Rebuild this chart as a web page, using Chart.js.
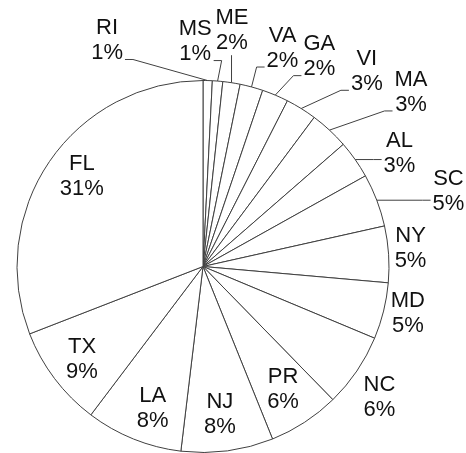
<!DOCTYPE html>
<html>
<head>
<meta charset="utf-8">
<script src="https://cdn.jsdelivr.net/npm/chart.js@4.4.0/dist/chart.umd.min.js"></script>
<style>
  html, body { margin: 0; padding: 0; background: #fff; }
</style>
</head>
<body>
<canvas id="pie" width="466" height="453"></canvas>
<script>
const states = ['RI', 'MS', 'ME', 'VA', 'GA', 'VI', 'MA', 'AL', 'SC', 'NY', 'MD', 'NC', 'PR', 'NJ', 'LA', 'TX', 'FL'];
// shares in tenths of a percent
const shares = [8, 9, 15, 20, 23, 27, 34, 33, 46, 49, 49, 64, 62, 80, 84, 88, 309];

// where each label sits: angle (deg, clockwise from 12 o'clock) and distance as a fraction of the radius
const labelAngles = [337, 358, 7, 20, 29, 40, 50, 60, 73, 85, 103, 126.5, 147, 173.5, 199.5, 232.5, 306.5];
const labelRadii = [1.32, 1.21, 1.28, 1.25, 1.29, 1.37, 1.46, 1.22, 1.38, 1.12, 1.13, 1.18, 0.79, 0.80, 0.81, 0.82, 0.81];

const FONT = '22px "Liberation Sans", Arial, sans-serif';
const LINE_H = 25;
const total = shares.reduce((a, b) => a + b, 0);

const pieLabels = {
    id: 'pieLabels',
    afterDatasetsDraw(chart) {
        const ctx = chart.ctx;
        const arcs = chart.getDatasetMeta(0).data;
        ctx.save();
        ctx.font = FONT;
        ctx.textAlign = 'center';
        ctx.textBaseline = 'middle';
        arcs.forEach((arc, i) => {
            const R = arc.outerRadius;
            const mid = (arc.startAngle + arc.endAngle) / 2;
            const ax = arc.x + R * Math.cos(mid);
            const ay = arc.y + R * Math.sin(mid);

            const a = labelAngles[i] * Math.PI / 180 - Math.PI / 2;
            const cx = arc.x + labelRadii[i] * R * Math.cos(a);
            const cy = arc.y + labelRadii[i] * R * Math.sin(a);

            const pct = Math.round(shares[i] * 100 / total) + '%';
            const w = Math.max(ctx.measureText(states[i]).width, ctx.measureText(pct).width);
            const left = cx - w / 2, right = cx + w / 2;
            const top = cy - LINE_H, bottom = cy + LINE_H;

            // leader line only when the label box is pulled clear of its slice
            const nx = Math.min(Math.max(ax, left), right);
            const ny = Math.min(Math.max(ay, top), bottom);
            const gap = Math.hypot(ax - nx, ay - ny);
            if (labelRadii[i] > 1 && gap > 12) {
                ctx.strokeStyle = '#404040';
                ctx.lineWidth = 1;
                ctx.beginPath();
                ctx.moveTo(ax, ay);
                if (ax >= left && ax <= right) {
                    ctx.lineTo(ax, ay > cy ? bottom : top);
                } else {
                    const dir = ax < left ? -1 : 1;
                    const ex = ax < left ? left - 2 : right + 2;
                    const ey = Math.min(Math.max(ay, top + 10), bottom - 6);
                    ctx.lineTo(ex + dir * 8, ey);
                    ctx.lineTo(ex, ey);
                }
                ctx.stroke();
            }

            ctx.fillStyle = '#111';
            ctx.fillText(states[i], cx, cy - LINE_H / 2);
            ctx.fillText(pct, cx, cy + LINE_H / 2);
        });
        ctx.restore();
    }
};

new Chart(document.getElementById('pie'), {
    type: 'pie',
    data: {
        labels: states,
        datasets: [{
            data: shares,
            backgroundColor: '#ffffff',
            borderColor: '#404040',
            borderWidth: 1
        }]
    },
    options: {
        responsive: false,
        animation: false,
        devicePixelRatio: 1,
        layout: { padding: { left: 16, right: 76, top: 80, bottom: 0 } },
        plugins: {
            legend: { display: false },
            tooltip: { enabled: false }
        }
    },
    plugins: [pieLabels]
});
</script>
</body>
</html>
